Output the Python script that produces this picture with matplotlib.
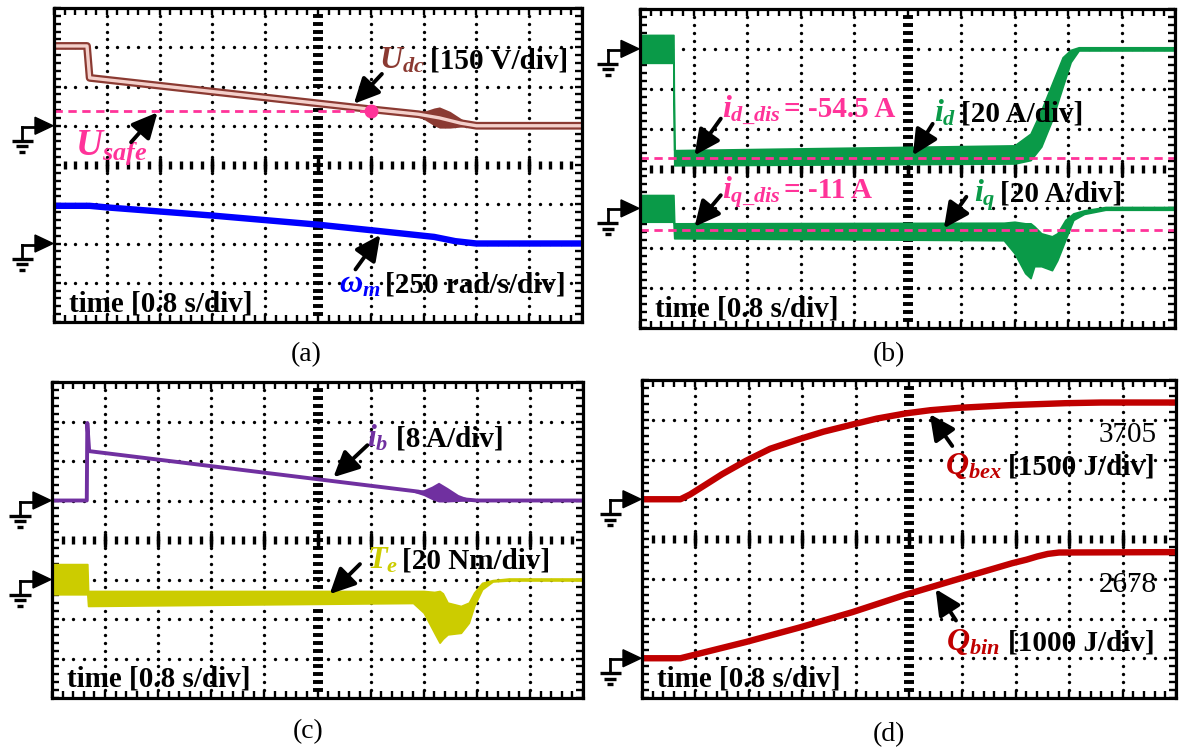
import numpy as np
import matplotlib
matplotlib.use('Agg')
import matplotlib.pyplot as plt
from matplotlib.ticker import MultipleLocator
from matplotlib.lines import Line2D
from matplotlib.patches import Polygon

W, H, DPI = 1179, 754, 100
plt.rcParams['font.family'] = ['Liberation Serif', 'DejaVu Serif']
plt.rcParams['mathtext.fontset'] = 'custom'
plt.rcParams['mathtext.rm'] = 'Liberation Serif:bold'
plt.rcParams['mathtext.it'] = 'Liberation Serif:italic:bold'
plt.rcParams['mathtext.bf'] = 'Liberation Serif:bold'

TIME_PER_DIV = 0.8  # s/div

# ---------------- data ----------------
# (a) DC-link voltage [V] and speed [rad/s]
udc_t = [0.0, 0.50, 0.54, 4.80, 5.52, 5.84, 6.16, 6.40, 8.0]
udc_v = [305, 305, 183, 63, 44, 30, 10, 0, 0]
udc_osc_t = [5.44, 5.60, 5.76, 5.84, 6.00, 6.20, 6.40]
udc_osc_hi = [46, 55, 68, 72, 55, 22, 2]
udc_osc_lo = [40, 25, 0, -9, -9, -4, -2]
u_safe = 58
u_safe_t_end = 4.80
wm_t = [0.0, 0.54, 0.80, 2.40, 4.00, 4.91, 5.76, 6.08, 6.40, 8.0]
wm_v = [240, 240, 230, 178, 120, 80, 42, 15, 0, 0]

# (b) dq currents [A] (envelopes of the noisy traces)
id_t = [0.0, 0.50, 0.512, 5.60, 5.84, 6.00, 6.16, 6.32, 6.44, 6.56, 8.0]
id_hi = [7, 7, -50.8, -48.4, -42.5, -30.8, -17.5, -4.2, -0.5, 0.8, 0.8]
id_lo = [-7, -7, -58.4, -57.5, -55.8, -49.0, -35.8, -19.0, -6.6, -0.8, -0.8]
iq_t = [0.0, 0.50, 0.512, 5.44, 5.60, 5.76, 5.84, 5.896, 6.00, 6.16, 6.24, 6.36, 6.48, 6.64, 6.96, 8.0]
iq_hi = [6.7, 6.7, -7.5, -7.2, -6.7, -7.5, -7.5, -9.0, -12.5, -14.0, -12.5, -5.8, -2.5, -1.0, 0.7, 0.7]
iq_lo = [-6.7, -6.7, -15.0, -16.0, -22.5, -32.5, -35.0, -29.0, -29.0, -31.0, -26.0, -15.8, -5.8, -2.8, -0.7, -0.7]
id_dis = -54.5
iq_dis = -11.0

# (c) battery current [A] and torque [Nm]
ib_t = [0.0, 0.524, 0.532, 0.56, 5.52, 5.90, 6.40, 8.0]
ib_v = [0, 0, 15.7, 10.0, 1.8, 0.6, 0, 0]
ib_osc_t = [5.44, 5.60, 5.72, 5.824, 5.96, 6.12, 6.28, 6.40]
ib_osc_hi = [1.9, 2.2, 2.9, 3.7, 2.6, 1.2, 0.4, 0.1]
ib_osc_lo = [1.7, 1.0, 0.2, -0.3, -0.3, -0.2, -0.1, -0.1]
te_t = [0.0, 0.532, 0.544, 5.44, 5.60, 5.76, 5.84, 5.888, 5.96, 6.16, 6.28, 6.36, 6.48, 6.64, 6.88, 8.0]
te_hi = [7.8, 7.8, -5.8, -5.8, -5.8, -6.3, -5.8, -7.0, -11.7, -13.4, -11.7, -6.6, -1.7, -0.3, 0.5, 0.5]
te_lo = [-7.5, -7.5, -13.4, -11.9, -16.8, -27.0, -32.0, -30.0, -27.8, -27.0, -21.9, -13.4, -5.0, -1.0, -0.5, -0.5]

# (d) heat energies [J]
qbex_t = [0.0, 0.576, 0.72, 0.928, 1.20, 1.56, 1.92, 2.352, 2.72, 3.152, 3.52,
          3.952, 4.32, 4.752, 5.544, 6.344, 6.88, 8.0]
qbex_v = [0, 0, 180, 510, 945, 1455, 1905, 2265, 2550, 2820, 3045,
          3240, 3360, 3450, 3555, 3625, 3650, 3650]
qbin_t = [0.0, 0.576, 1.56, 2.352, 3.152, 3.952, 4.752, 5.544, 5.76, 5.92, 6.08, 6.248, 8.0]
qbin_v = [0, 0, 410, 770, 1160, 1600, 2000, 2390, 2480, 2560, 2625, 2660, 2670]

# channel settings: (ground level in div, units per div)
CH = {
    'udc': (1, 150), 'wm': (-2, 250),
    'id': (3, 20), 'iq': (-1, 20),
    'ib': (1, 8), 'te': (-1, 20),
    'qbex': (1, 1500), 'qbin': (-3, 1000),
}

BROWN = '#8b3a32'; LPINK = '#f4d0cb'; PINK = '#ff3399'; BLUE = '#0000ff'
GREEN = '#0a9a48'; PURPLE = '#7030a0'; YELLOW = '#cccc00'; RED = '#c00000'
FS = 21
FSS = 23


def tx(t):
    return np.asarray(t, float) / TIME_PER_DIV


def ty(v, ch):
    g, s = CH[ch]
    return g + np.asarray(v, float) / s


fig = plt.figure(figsize=(W / DPI, H / DPI), dpi=DPI)
fig.patch.set_facecolor('white')

boxes = {'a': (54, 8, 582, 322), 'b': (640, 9, 1175, 328),
         'c': (52, 382, 583, 698), 'd': (642, 380, 1176, 698)}


def make_ax(box):
    l, t, r, b = box
    ax = fig.add_axes([l / W, 1 - b / H, (r - l) / W, (b - t) / H])
    ax.set_xlim(0, 10)
    ax.set_ylim(-4, 4)
    ax.xaxis.set_major_locator(MultipleLocator(1))
    ax.xaxis.set_minor_locator(MultipleLocator(0.2))
    ax.yaxis.set_major_locator(MultipleLocator(1))
    ax.yaxis.set_minor_locator(MultipleLocator(0.2))
    ax.tick_params(which='both', direction='in', length=5, width=1.7,
                   top=True, right=True, bottom=True, left=True,
                   labelbottom=False, labelleft=False)
    for s in ax.spines.values():
        s.set_linewidth(2.3)
        s.set_zorder(10)
    fx = np.arange(0, 10.001, 0.2)
    fy = np.arange(-4, 4.001, 0.2)
    for gx in range(1, 10):
        if gx != 5:
            ax.plot(np.full_like(fy, gx), fy, 'o', ms=2.4, mew=0, color='k', zorder=1)
    for gy in range(-3, 4):
        if gy != 0:
            ax.plot(fx, np.full_like(fx, gy), 'o', ms=2.4, mew=0, color='k', zorder=1)
    ax.plot(fx[1:-1], np.zeros(len(fx) - 2), '|', ms=6.0, mew=2.4, color='k', zorder=1)
    ax.plot(np.arange(1, 10), np.zeros(9), '|', ms=10, mew=2.4, color='k', zorder=1)
    ax.plot(np.full(len(fy) - 2, 5.0), fy[1:-1], '_', ms=6.5, mew=2.8, color='k', zorder=1)
    ax.text(0.28, -3.72, 'time [0.8 s/div]', fontsize=FS, fontweight='bold',
            va='baseline', ha='left', zorder=7)
    return ax


def ground(ax, ydiv):
    x0, y0 = ax.transData.transform((0, ydiv))
    inv = fig.transFigure.inverted()

    def P(pts):
        return inv.transform(np.array(pts, float))

    tri = Polygon(P([(x0 - 1, y0), (x0 - 19, y0 + 8.5), (x0 - 19, y0 - 8.5)]),
                  closed=True, color='k', transform=fig.transFigure, zorder=20)
    fig.add_artist(tri)
    segs = [[(x0 - 32, y0 - 1), (x0 - 18, y0 - 1)],
            [(x0 - 32, y0 - 1), (x0 - 32, y0 - 14)]]
    for s in segs:
        p = P(s)
        fig.add_artist(Line2D(p[:, 0], p[:, 1], color='k', lw=2.0, transform=fig.transFigure))
    for dy, hw in [(15, 10.5), (20.5, 6), (26, 3)]:
        p = P([(x0 - 32 - hw, y0 - dy), (x0 - 32 + hw, y0 - dy)])
        fig.add_artist(Line2D(p[:, 0], p[:, 1], color='k', lw=2.4, transform=fig.transFigure,
                              solid_capstyle='butt'))


def arrow(ax, tail, head):
    ax.annotate('', xy=head, xytext=tail,
                arrowprops=dict(arrowstyle='-|>,head_length=0.45,head_width=0.22',
                                color='k', lw=2.8, mutation_scale=34,
                                shrinkA=0, shrinkB=0), zorder=8)


def label(ax, xs, xt, y, sym, txt, color):
    ax.text(xs, y, sym, color=color, fontsize=FSS, va='baseline', ha='left', zorder=7)
    if txt:
        ax.text(xt, y, txt, color='k', fontsize=FS, fontweight='bold', va='baseline',
                ha='left', zorder=7)


# ---------------- (a) ----------------
ax = make_ax(boxes['a'])
ax.fill_between(tx(udc_osc_t), ty(udc_osc_lo, 'udc'), ty(udc_osc_hi, 'udc'),
                color=BROWN, lw=0, zorder=3)
ax.plot(tx(udc_t), ty(udc_v, 'udc'), color=BROWN, lw=5.6, zorder=3)
ax.plot(tx(udc_t), ty(udc_v, 'udc'), color=LPINK, lw=2.4, zorder=4)
ax.plot([0, tx([u_safe_t_end])[0]], ty([u_safe, u_safe], 'udc'), color=PINK, lw=2.0,
        dashes=(3, 2), zorder=5)
ax.plot(tx([u_safe_t_end]), ty([u_safe], 'udc'), 'o', color=PINK, ms=9, zorder=6)
ax.plot(tx(wm_t), ty(wm_v, 'wm'), color=BLUE, lw=4.6, zorder=3, solid_capstyle='butt')
label(ax, 6.15, 7.12, 2.45, r'$U_{dc}$', '[150 V/div]', BROWN)
ax.text(0.39, 0.26, r'$U_{safe}$', color=PINK, fontsize=FSS + 4, va='baseline', zorder=7)
label(ax, 5.40, 6.27, -3.25, r'$\omega_m$', '[250 rad/s/div]', BLUE)
arrow(ax, (6.21, 2.32), (5.68, 1.56))
arrow(ax, (1.46, 0.58), (1.96, 1.34))
arrow(ax, (5.71, -2.66), (6.18, -1.78))
ground(ax, CH['udc'][0]); ground(ax, CH['wm'][0])

# ---------------- (b) ----------------
ax = make_ax(boxes['b'])
ax.fill_between(tx(id_t), ty(id_lo, 'id'), ty(id_hi, 'id'), color=GREEN, lw=1.2,
                edgecolor=GREEN, zorder=3)
ax.fill_between(tx(iq_t), ty(iq_lo, 'iq'), ty(iq_hi, 'iq'), color=GREEN, lw=1.2,
                edgecolor=GREEN, zorder=3)
ax.axhline(ty(id_dis, 'id'), color=PINK, lw=2.0, dashes=(3, 2), zorder=5)
ax.axhline(ty(iq_dis, 'iq'), color=PINK, lw=2.0, dashes=(3, 2), zorder=5)
label(ax, 1.54, 2.6, 1.29, r'$i_{d\_dis}$', '', PINK)
ax.text(2.7, 1.29, '= -54.5 A', color=PINK, fontsize=FS, fontweight='bold', va='baseline', zorder=7)
label(ax, 5.49, 6.0, 1.17, r'$i_d$', '[20 A/div]', GREEN)
label(ax, 1.54, 2.6, -0.75, r'$i_{q\_dis}$', '', PINK)
ax.text(2.7, -0.75, '= -11 A', color=PINK, fontsize=FS, fontweight='bold', va='baseline', zorder=7)
label(ax, 6.25, 6.72, -0.83, r'$i_q$', '[20 A/div]', GREEN)
arrow(ax, (1.51, 1.25), (1.02, 0.33))
arrow(ax, (5.47, 1.12), (5.10, 0.33))
arrow(ax, (1.51, -0.67), (1.02, -1.46))
arrow(ax, (6.10, -0.71), (5.68, -1.50))
ground(ax, CH['id'][0]); ground(ax, CH['iq'][0])

# ---------------- (c) ----------------
ax = make_ax(boxes['c'])
ax.fill_between(tx(ib_osc_t), ty(ib_osc_lo, 'ib'), ty(ib_osc_hi, 'ib'), color=PURPLE,
                lw=0, zorder=3)
ax.plot(tx(ib_t), ty(ib_v, 'ib'), color=PURPLE, lw=2.8, zorder=3)
ax.fill_between(tx(te_t), ty(te_lo, 'te'), ty(te_hi, 'te'), color=YELLOW, lw=1.2,
                edgecolor=YELLOW, zorder=3)
label(ax, 5.94, 6.47, 2.36, r'$i_b$', '[8 A/div]', PURPLE)
label(ax, 5.94, 6.6, -0.72, r'$T_e$', '[20 Nm/div]', YELLOW)
arrow(ax, (5.94, 2.40), (5.30, 1.59))
arrow(ax, (5.80, -0.61), (5.23, -1.37))
ground(ax, CH['ib'][0]); ground(ax, CH['te'][0])

# ---------------- (d) ----------------
ax = make_ax(boxes['d'])
ax.plot(tx(qbex_t), ty(qbex_v, 'qbex'), color=RED, lw=4.6, zorder=3, solid_capstyle='butt')
ax.plot(tx(qbin_t), ty(qbin_v, 'qbin'), color=RED, lw=4.6, zorder=3, solid_capstyle='butt')
ax.text(9.63, 2.43, '3705', fontsize=FS, va='baseline', ha='right', zorder=7)
ax.text(9.64, -1.34, '2678', fontsize=FS, va='baseline', ha='right', zorder=7)
label(ax, 5.68, 6.85, 1.63, r'$Q_{bex}$', '[1500 J/div]', RED)
label(ax, 5.70, 6.85, -2.80, r'$Q_{bin}$', '[1000 J/div]', RED)
arrow(ax, (5.81, 2.34), (5.39, 3.14))
arrow(ax, (5.88, -2.05), (5.50, -1.26))
ground(ax, CH['qbex'][0]); ground(ax, CH['qbin'][0])

# captions
for txt, x, y in [('(a)', 306, 355), ('(b)', 889, 355), ('(c)', 308, 732), ('(d)', 889, 735)]:
    fig.text(x / W, 1 - y / H, txt, fontsize=20, ha='center', va='center')

fig.savefig('out.png', dpi=DPI, facecolor='white')
